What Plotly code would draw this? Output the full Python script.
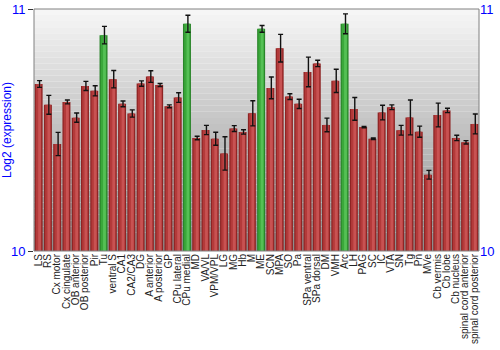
import plotly.graph_objects as go

categories = ["LS", "RS", "Cx motor", "Cx cingulate", "OB anterior", "OB posterior", "Pir", "Tu",
              "ventral S", "CA1", "CA2/CA3", "DG", "A anterior", "A posterior", "GP", "CPu lateral",
              "CPu medial", "MD", "VA/VL", "VPM/VPL", "LG", "MG", "Hb", "M", "ME", "SCN", "MPA",
              "SO", "Pa", "SPa ventral", "SPa dorsal", "DM", "VMH", "Arc", "LH", "PAG", "SC", "IC",
              "VTA", "SN", "Tg", "Pn", "MVe", "Cb vermis", "Cb lobe", "Cb nucleus",
              "spinal cord anterior", "spinal cord posterior"]
values = [10.69, 10.604, 10.442, 10.616, 10.551, 10.682, 10.662, 10.892,
          10.71, 10.608, 10.568, 10.692, 10.721, 10.686, 10.598, 10.634,
          10.939, 10.467, 10.50, 10.464, 10.403, 10.506, 10.492, 10.569, 10.918, 10.674, 10.838,
          10.638, 10.608, 10.74, 10.775, 10.521, 10.703, 10.939, 10.587, 10.512, 10.464, 10.572,
          10.594, 10.499, 10.552, 10.493, 10.315, 10.562, 10.581, 10.467,
          10.449, 10.525]
errors = [0.014, 0.039, 0.048, 0.008, 0.019, 0.019, 0.021, 0.036,
          0.036, 0.012, 0.015, 0.011, 0.024, 0.006, 0.006, 0.02,
          0.035, 0.007, 0.019, 0.027, 0.069, 0.012, 0.009, 0.052, 0.014, 0.045, 0.057,
          0.012, 0.019, 0.061, 0.013, 0.028, 0.048, 0.041, 0.047, 0.003, 0.003, 0.03,
          0.01, 0.02, 0.072, 0.023, 0.018, 0.049, 0.009, 0.011,
          0.007, 0.041]
highlighted = ["Tu", "CPu medial", "ME", "Arc"]
y_ticks = [10, 11]

base_col = ["#2a852a" if c in highlighted else "#8e2424" for c in categories]
mid_col = ["#3aa83a" if c in highlighted else "#b33a3a" for c in categories]
hi_col = ["#55c055" if c in highlighted else "#c85252" for c in categories]

fig = go.Figure()
fig.add_trace(go.Bar(x=categories, y=[v - 10 for v in values], base=10, width=0.86,
                     marker=dict(color=base_col, line=dict(width=0)), hoverinfo="skip"))
fig.add_trace(go.Bar(x=categories, y=[v - 10 for v in values], base=10, width=0.6,
                     marker=dict(color=mid_col, line=dict(width=0)), hoverinfo="skip"))
fig.add_trace(go.Bar(x=categories, y=[v - 10 for v in values], base=10, width=0.3, offset=-0.05,
                     marker=dict(color=hi_col, line=dict(width=0)),
                     error_y=dict(type="data", array=errors, color="#111111", thickness=1.4, width=2.5)))

# background gradient
shapes = []
n = 40
for i in range(n):
    t = i / (n - 1)
    g = int(round(0xf6 + (0x8c - 0xf6) * t))
    col = "#%02x%02x%02x" % (g, g, g)
    shapes.append(dict(type="rect", xref="paper", yref="paper", x0=0, x1=1,
                       y0=1 - (i + 1) / n, y1=1 - i / n, fillcolor=col,
                       line=dict(width=0), layer="below"))
shapes.append(dict(type="rect", xref="paper", yref="paper", x0=0, x1=1, y0=0, y1=1,
                   line=dict(color="#808080", width=1), fillcolor="rgba(0,0,0,0)", layer="above"))

fig.update_layout(
    width=500, height=350,
    margin=dict(l=34, r=21, t=9, b=99),
    barmode="overlay", bargap=0.1,
    showlegend=False,
    paper_bgcolor="white", plot_bgcolor="rgba(0,0,0,0)",
    shapes=shapes,
    font=dict(family="Liberation Sans, Arial, sans-serif"),
    xaxis=dict(tickangle=-90, tickfont=dict(size=10, color="#222222"), showgrid=False,
               tickmode="array", tickvals=categories, ticktext=categories,
               ticks="", range=[-0.5, len(categories) - 0.5], showline=False, automargin=False),
    yaxis=dict(range=[10, 11], tickvals=y_ticks, ticktext=[str(t) for t in y_ticks],
               tickfont=dict(size=13, color="#0000ff"), showgrid=False, zeroline=False,
               ticks="outside", ticklen=5, tickcolor="#333333", showline=False, automargin=False,
               title=dict(text="Log2 (expression)", font=dict(size=12, color="#0000ff"), standoff=4)),
    yaxis2=dict(range=[10, 11], tickvals=y_ticks, ticktext=[str(t) for t in y_ticks],
                overlaying="y", side="right", tickfont=dict(size=13, color="#0000ff"),
                showgrid=False, zeroline=False, ticks="", showline=False, automargin=False),
)
fig.add_trace(go.Scatter(x=[categories[0]], y=[10], yaxis="y2", mode="markers",
                         marker=dict(opacity=0), hoverinfo="skip"))

fig.write_html("out.html")
